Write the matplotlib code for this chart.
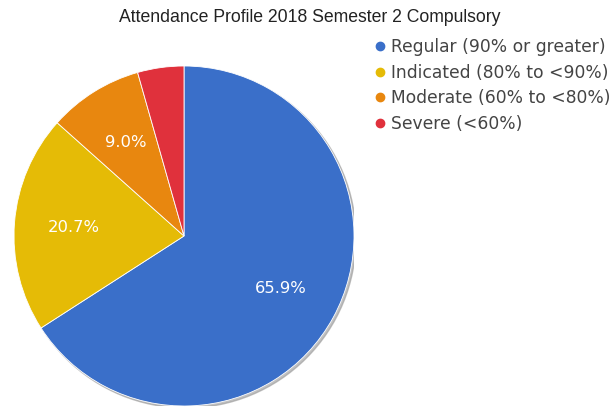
import matplotlib.pyplot as plt
from matplotlib.lines import Line2D
from matplotlib.patches import Circle

# attendance bands, share of students (%)
categories = ['Regular (90% or greater)', 'Indicated (80% to <90%)',
              'Moderate (60% to <80%)', 'Severe (<60%)']
shares = [65.9, 20.7, 9.0, 4.4]
colors = ['#3a6fc9', '#e5bb06', '#e8870f', '#e0313c']

W, H = 614, 407
fig = plt.figure(figsize=(W / 100, H / 100), dpi=100)

# pie centre (184, 236) px, radius 170 px
cx, cy, r = 184, 236, 170
ax = fig.add_axes([(cx - r) / W, (H - cy - r) / H, 2 * r / W, 2 * r / H])
ax.set_xlim(-1, 1)
ax.set_ylim(-1, 1)
ax.axis('off')

# faint shadow like the original
ax.add_patch(Circle((0.012, -0.012), 1.0, color='#999999', alpha=0.6, zorder=0))

def pct(p):
    return '%.1f%%' % p if p >= 5 else ''

wedges, texts, autotexts = ax.pie(shares, colors=colors, startangle=90, counterclock=False,
                                  radius=1.0, autopct=pct, pctdistance=0.65,
                                  wedgeprops=dict(linewidth=0.6, edgecolor='white'),
                                  textprops=dict(color='white', fontsize=11.8, family='DejaVu Sans'))
ax.set_xlim(-1, 1)
ax.set_ylim(-1, 1)

fig.text(310 / W, 1 - 18 / H, 'Attendance Profile 2018 Semester 2 Compulsory',
         ha='center', va='center', fontsize=12.7, family='Liberation Sans', color='#222222')

handles = [Line2D([], [], marker='o', linestyle='', markersize=6, color=c) for c in colors]
fig.legend(handles, categories, loc='upper left', bbox_to_anchor=(376 / W, 1 - 38 / H),
           frameon=False, handlelength=0.5, handletextpad=0.4, labelspacing=0.45,
           borderpad=0, borderaxespad=0, prop=dict(family='DejaVu Sans', size=12.3),
           labelcolor='#444444')

fig.savefig('out.png', dpi=100)
